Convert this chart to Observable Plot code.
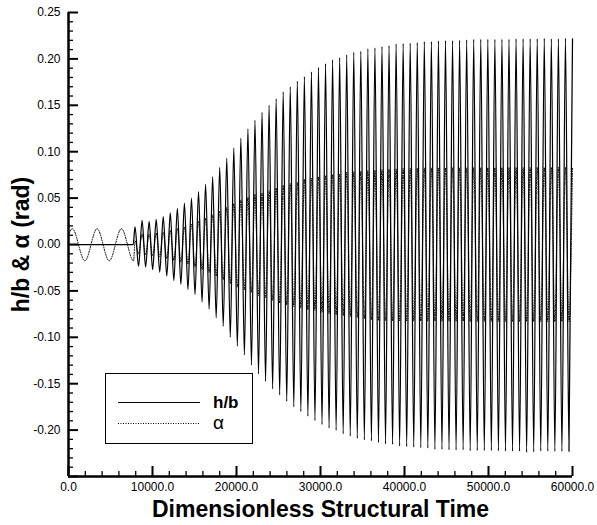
<!DOCTYPE html>
<html>
<head>
<meta charset="utf-8">
<script src="https://cdn.jsdelivr.net/npm/d3@7"></script>
<script src="https://cdn.jsdelivr.net/npm/@observablehq/plot@0.6"></script>
<style>
  html, body { margin: 0; padding: 0; background: white; }
  #wrap { position: relative; width: 597px; height: 525px; font-family: "Liberation Sans", Arial, sans-serif; }
  #legend { position: absolute; left: 105px; top: 373px; width: 146px; height: 69px; border: 1px solid black; background: white; }
</style>
</head>
<body>
<div id="wrap">
  <div id="chart"></div>
  <div id="legend"></div>
</div>
<script>
// ---- Data ----
// h/b before flutter onset (flat)
const hbPreT = [0, 7700];
const hbPreV = [0, 0];

// alpha before onset (slow oscillation extremes)
const alphaPreT = [0, 450, 1950, 3400, 4850, 6300, 7750];
const alphaPreV = [0.010, 0.017, -0.0176, 0.017, -0.0176, 0.017, -0.0176];

// times of the positive extremes after onset
const peakT = [7920, 8760, 9600, 10440, 11280, 12120, 12960, 13800, 14640, 15480, 16320, 17160, 18000, 18840, 19680, 20520, 21360, 22200, 23040, 23880, 24720, 25560, 26400, 27240, 28080, 28920, 29760, 30600, 31440, 32280, 33120, 33960, 34800, 35640, 36480, 37320, 38160, 39000, 39840, 40680, 41520, 42360, 43200, 44040, 44880, 45720, 46560, 47400, 48240, 49080, 49920, 50760, 51600, 52440, 53280, 54120, 54960, 55800, 56640, 57480, 58320, 59160, 60000];
// times of the negative extremes after onset
const troughT = [8340, 9180, 10020, 10860, 11700, 12540, 13380, 14220, 15060, 15900, 16740, 17580, 18420, 19260, 20100, 20940, 21780, 22620, 23460, 24300, 25140, 25980, 26820, 27660, 28500, 29340, 30180, 31020, 31860, 32700, 33540, 34380, 35220, 36060, 36900, 37740, 38580, 39420, 40260, 41100, 41940, 42780, 43620, 44460, 45300, 46140, 46980, 47820, 48660, 49500, 50340, 51180, 52020, 52860, 53700, 54540, 55380, 56220, 57060, 57900, 58740, 59580];

const hbPeakV = [0.019, 0.026, 0.025, 0.027, 0.030, 0.034, 0.039, 0.0445, 0.050, 0.057, 0.065, 0.073, 0.083, 0.093, 0.104, 0.1146, 0.1247, 0.134, 0.1426, 0.150, 0.157, 0.1645, 0.170, 0.176, 0.181, 0.186, 0.191, 0.195, 0.199, 0.2015, 0.2044, 0.2072, 0.2083, 0.211, 0.212, 0.2134, 0.2144, 0.2163, 0.2166, 0.217, 0.2177, 0.2188, 0.2188, 0.2195, 0.2198, 0.2198, 0.220, 0.2205, 0.221, 0.2212, 0.221, 0.221, 0.2212, 0.2212, 0.2216, 0.2216, 0.2216, 0.2216, 0.2222, 0.2216, 0.2216, 0.2222, 0.2216];
const hbTroughV = [-0.0237, -0.0244, -0.027, -0.0298, -0.034, -0.0388, -0.043, -0.0485, -0.054, -0.062, -0.0697, -0.079, -0.088, -0.0999, -0.1096, -0.119, -0.130, -0.1394, -0.1476, -0.1555, -0.162, -0.169, -0.175, -0.180, -0.185, -0.1897, -0.194, -0.198, -0.2004, -0.204, -0.2066, -0.209, -0.2105, -0.2116, -0.2134, -0.2148, -0.2155, -0.2173, -0.2178, -0.2184, -0.219, -0.2195, -0.2209, -0.2209, -0.2212, -0.2215, -0.2212, -0.2223, -0.222, -0.222, -0.222, -0.2223, -0.2227, -0.2227, -0.2227, -0.2241, -0.2234, -0.2227, -0.2227, -0.223, -0.223, -0.223];

const alphaPeakV = [0.004, 0.011, 0.011, 0.012, 0.013, 0.015, 0.017, 0.019, 0.022, 0.025, 0.028, 0.032, 0.036, 0.040, 0.044, 0.048, 0.051, 0.054, 0.0555, 0.058, 0.0607, 0.0636, 0.0657, 0.067, 0.070, 0.0715, 0.073, 0.0743, 0.0754, 0.076, 0.078, 0.0785, 0.079, 0.0797, 0.080, 0.0805, 0.081, 0.0815, 0.082, 0.082, 0.0822, 0.0824, 0.0824, 0.0825, 0.0825, 0.0826, 0.0826, 0.0826, 0.0827, 0.0827, 0.0827, 0.0828, 0.0828, 0.0828, 0.0828, 0.0828, 0.0829, 0.0829, 0.0829, 0.0829, 0.083, 0.083, 0.083];
const alphaTroughV = [-0.010, -0.011, -0.012, -0.013, -0.015, -0.017, -0.019, -0.021, -0.024, -0.027, -0.030, -0.034, -0.038, -0.042, -0.046, -0.049, -0.0514, -0.055, -0.0575, -0.060, -0.063, -0.065, -0.0668, -0.0686, -0.070, -0.071, -0.073, -0.0747, -0.0757, -0.0765, -0.0776, -0.0786, -0.080, -0.0808, -0.0819, -0.082, -0.0822, -0.0823, -0.0824, -0.0825, -0.0825, -0.0826, -0.0826, -0.0826, -0.0827, -0.0827, -0.0827, -0.0828, -0.0828, -0.0828, -0.0828, -0.0829, -0.0829, -0.0829, -0.0829, -0.083, -0.083, -0.083, -0.083, -0.083, -0.083, -0.083];

// tick labels
const xTickValues = [0, 10000, 20000, 30000, 40000, 50000, 60000];
const yTickValues = [0.25, 0.20, 0.15, 0.10, 0.05, 0.00, -0.05, -0.10, -0.15, -0.20];
const seriesNames = ["h/b", "\u03b1"];
const xTitle = "Dimensionless Structural Time";
const yTitle = "h/b & \u03b1 (rad)";

// ---- Build tables ----
function series(preT, preV, pV, tV) {
  return [
    ...preT.map((t, i) => ({t, v: preV[i]})),
    ...peakT.map((t, i) => ({t, v: pV[i]})),
    ...troughT.map((t, i) => ({t, v: tV[i]}))
  ].sort((a, b) => a.t - b.t);
}
const hbData = series(hbPreT, hbPreV, hbPeakV, hbTroughV);
const alphaData = series(alphaPreT, alphaPreV, alphaPeakV, alphaTroughV);

const W = 597, H = 525, mL = 68, mR = 25, mT = 12, mB = 49;
const innerW = W - mL - mR, innerH = H - mT - mB;

const yMajor = d3.range(-25, 26, 5).map(d => d / 100);
const yMinor = d3.range(-25, 26, 1).filter(d => d % 5 !== 0).map(d => d / 100);
const xMajor = d3.range(0, 60001, 10000);
const xMinor = d3.range(0, 60001, 2000).filter(d => d % 10000 !== 0);

const chart = Plot.plot({
  width: W, height: H,
  marginLeft: mL, marginRight: mR, marginTop: mT, marginBottom: mB,
  style: {fontFamily: '"Liberation Sans", Arial, sans-serif', fontSize: "12px", color: "black", background: "white", overflow: "visible"},
  x: {domain: [0, 60000], label: null},
  y: {domain: [-0.25, 0.25], label: null},
  marks: [
    Plot.line(hbData, {x: "t", y: "v", curve: "monotone-x", stroke: "black", strokeWidth: 1.25}),
    Plot.line(alphaData, {x: "t", y: "v", curve: "monotone-x", stroke: "black", strokeWidth: 1, strokeDasharray: "1,1.5"}),
    Plot.tickY(yMinor, {y: d => d, insetRight: innerW - 5, stroke: "black", strokeWidth: 1.3}),
    Plot.tickY(yMajor, {y: d => d, insetRight: innerW - 10, stroke: "black", strokeWidth: 2}),
    Plot.tickX(xMinor, {x: d => d, insetTop: innerH - 5, stroke: "black", strokeWidth: 1.3}),
    Plot.tickX(xMajor, {x: d => d, insetTop: innerH - 10, stroke: "black", strokeWidth: 2}),
    Plot.ruleX([0], {stroke: "black", strokeWidth: 2.5}),
    Plot.ruleY([-0.25], {stroke: "black", strokeWidth: 2.5}),
    Plot.axisY({ticks: yTickValues, tickSize: 0, tickPadding: 8, tickFormat: d => d.toFixed(2), label: null, fontSize: 12}),
    Plot.axisX({ticks: xTickValues, tickSize: 0, tickPadding: 6, tickFormat: d => d.toFixed(1), label: null, fontSize: 12}),
    Plot.text([xTitle], {frameAnchor: "bottom", dy: 33, lineAnchor: "middle", textAnchor: "middle", fontSize: 23, fontWeight: "bold", fill: "black"}),
    Plot.text([yTitle], {frameAnchor: "left", dx: -47, rotate: -90, textAnchor: "middle", lineAnchor: "middle", fontSize: 23, fontWeight: "bold", fill: "black"})
  ]
});
document.getElementById("chart").appendChild(chart);

// ---- Legend ----
const lg = d3.select("#legend").append("svg").attr("width", 146).attr("height", 69)
  .style("font-family", '"Liberation Sans", Arial, sans-serif');
lg.append("line").attr("x1", 12).attr("x2", 94).attr("y1", 28.5).attr("y2", 28.5)
  .attr("stroke", "black").attr("stroke-width", 1.2);
lg.append("line").attr("x1", 12).attr("x2", 94).attr("y1", 49.5).attr("y2", 49.5)
  .attr("stroke", "black").attr("stroke-width", 1).attr("stroke-dasharray", "1,1.5");
lg.append("text").attr("x", 107).attr("y", 34).attr("font-size", 17).attr("font-weight", "bold").text(seriesNames[0]);
lg.append("text").attr("x", 107).attr("y", 55).attr("font-size", 19).text(seriesNames[1]);
</script>
</body>
</html>
